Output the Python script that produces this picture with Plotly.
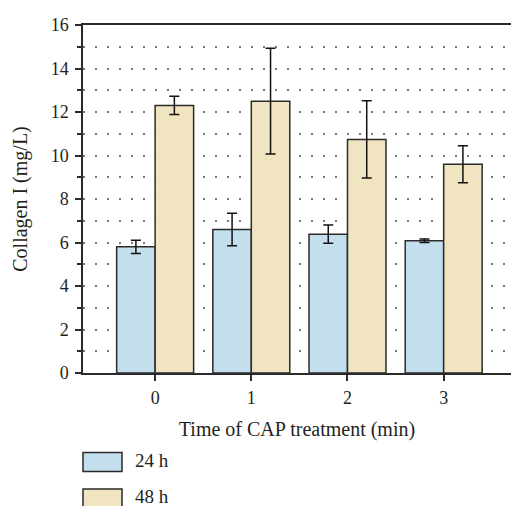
import plotly.graph_objects as go

categories = [0, 1, 2, 3]
series_names = ["24 h", "48 h"]
values_24h = [5.8, 6.6, 6.38, 6.08]
errors_24h = [0.3, 0.75, 0.42, 0.08]
values_48h = [12.3, 12.5, 10.74, 9.6]
errors_48h = [0.42, 2.43, 1.78, 0.85]
y_ticks = [0, 2, 4, 6, 8, 10, 12, 14, 16]

colors = ["#c3dfee", "#f1e4c1"]
edge = "#2a2a2a"
FONT = "Liberation Serif"
txt = "#231f20"

fig = go.Figure()
for name, vals, errs, col in [
    (series_names[0], values_24h, errors_24h, colors[0]),
    (series_names[1], values_48h, errors_48h, colors[1]),
]:
    fig.add_trace(go.Bar(
        x=categories, y=vals, name=name,
        marker=dict(color=col, line=dict(color=edge, width=1.5)),
        error_y=dict(type="data", array=errs, color="#111", thickness=1.5, width=5),
        showlegend=False, hoverinfo="skip",
    ))

W, H = 511, 506
L, R, T, B = 83, 0, 25, 133
fig.update_layout(
    width=W, height=H,
    margin=dict(l=L, r=R, t=T, b=B, autoexpand=False),
    plot_bgcolor="white", paper_bgcolor="white",
    barmode="group", bargap=0.2, bargroupgap=0,
    font=dict(family=FONT, size=18, color=txt),
    xaxis=dict(
        range=[-0.75, 3.70], tickvals=categories, ticktext=[str(c) for c in categories],
        showline=True, linecolor=edge, linewidth=1.5, mirror=True,
        ticks="outside", ticklen=6, tickwidth=1.5, tickcolor=edge,
        ticklabelstandoff=2,
        showgrid=False, zeroline=False, automargin=False,
        title=dict(text="Time of CAP treatment (min)", font=dict(size=20), standoff=15),
    ),
    yaxis=dict(
        range=[0, 16], tickvals=y_ticks,
        showline=True, linecolor=edge, linewidth=1.5,
        ticks="outside", ticklen=6, tickwidth=1.5, tickcolor=edge,
        ticklabelstandoff=3,
        showgrid=True, gridcolor="#777", gridwidth=1.5, griddash="2px,10px",
        zeroline=False, automargin=False,
        minor=dict(dtick=1, ticks="outside", ticklen=4, tickwidth=1.5, tickcolor=edge,
                   showgrid=True, gridcolor="#777", gridwidth=1.5, griddash="2px,10px"),
        title=dict(text="Collagen I (mg/L)", font=dict(size=20), standoff=18),
    ),
)

# legend drawn below the plot (pixel layout converted to paper coords)
PW, PH = W - L - R, H - T - B
for i, (name, col) in enumerate(zip(series_names, colors)):
    y0 = 452.5 + i * 36.5
    fig.add_shape(type="rect", xref="paper", yref="paper",
                  x0=(83 - L) / PW, x1=(122 - L) / PW,
                  y0=(H - B - (y0 + 19)) / PH, y1=(H - B - y0) / PH,
                  fillcolor=col, line=dict(color=edge, width=1.5), layer="above")
    fig.add_annotation(xref="paper", yref="paper",
                       x=(133 - L) / PW, y=(H - B - (y0 + 7.5)) / PH,
                       text=name, showarrow=False, xanchor="left", yanchor="middle",
                       font=dict(size=19, family=FONT, color=txt))

fig.write_html("out.html", config={"displayModeBar": False},
               post_script="document.body.style.margin='0';")
